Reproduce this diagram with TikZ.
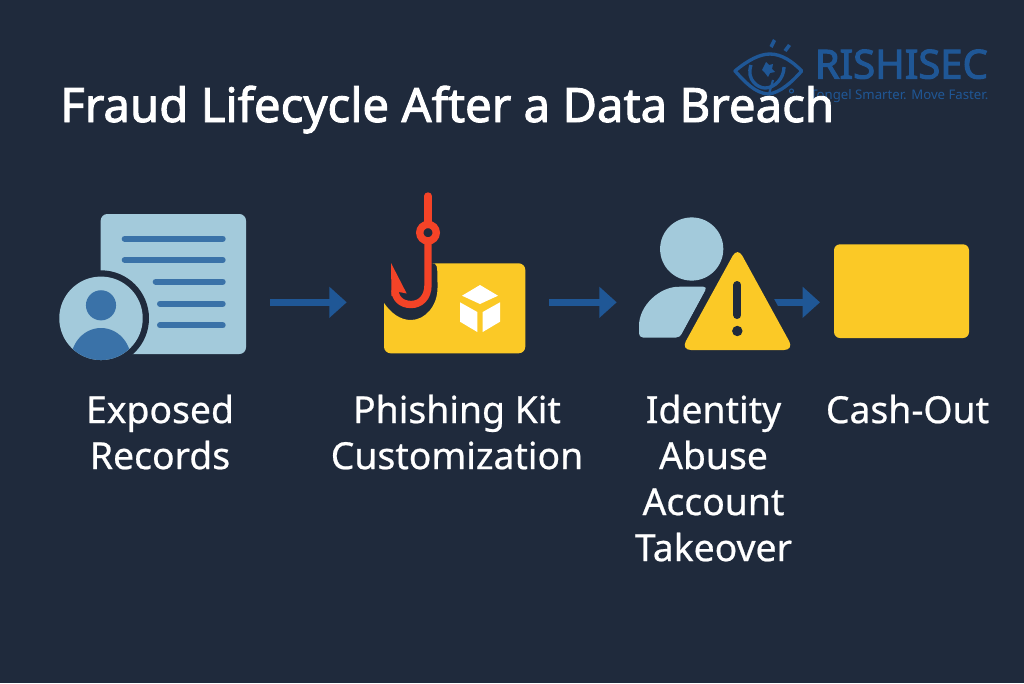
\documentclass[tikz,border=0pt]{standalone}
\usepackage{fontspec}
\usepackage{tikz}
\usetikzlibrary{arrows.meta}
\setmainfont{Noto Sans}
\newfontfamily\labelfont[FakeBold=0.6]{Noto Sans}
\newfontfamily\titlefont[FakeBold=2]{Noto Sans}
\newfontfamily\brandfont[FakeBold=2.6]{Noto Sans}
\definecolor{bgdark}{HTML}{1F2A3C}
\definecolor{paleblue}{HTML}{A3CADB}
\definecolor{midblue}{HTML}{3A72A8}
\definecolor{arrowblue}{HTML}{1F5796}
\definecolor{gold}{HTML}{FBC926}
\definecolor{hookred}{HTML}{F44327}
\tikzset{
  steplabel/.style={text=white,font=\labelfont\fontsize{28}{34.5}\selectfont,align=center,anchor=north},
  flowarrow/.style={arrowblue,line width=5.25pt,-{Triangle[length=13pt,width=22.5pt]}},
  docline/.style={midblue,line width=4.5pt,line cap=round},
  hookline/.style={hookred,line width=5.5pt,line cap=round}
}
\begin{document}
\begin{tikzpicture}[x=0.75pt,y=-0.75pt]
\fill[bgdark] (0,0) rectangle (1024,683);
\useasboundingbox (0,0) rectangle (1024,683);

% logo
\begin{scope}[arrowblue]
\draw[line width=2.5pt,line join=round] (735,71) .. controls (748,60) and (760,54) .. (770,54) .. controls (782,54) and (793,62) .. (801.7,71) .. controls (792,82) and (780,93) .. (768,94) .. controls (755,93) and (745,82) .. (735,71) -- cycle;
\draw[line width=2.5pt] (751,65) .. controls (746,80) and (758,88) .. (765,88) .. controls (775,88) and (784,78) .. (784,67);
\draw[line width=1.6pt] (773,80) -- (769,94);
\fill (762,70) -- (766,62) -- (769,65) -- (773,64) -- (772,69) -- (775,72) -- (770,73) -- (768,77) -- (765,73) -- cycle;
\fill (769.5,46) -- (773,39) -- (776,41) -- (772.5,48) -- cycle;
\fill (783.5,50) -- (788,44) -- (791,46) -- (786.5,52) -- cycle;
\draw[line width=0.8pt] (791.5,91) circle (2);
\end{scope}
\node[anchor=base west,inner sep=0pt,text=arrowblue,font=\brandfont\fontsize{30}{30}\selectfont] (brand) at (814.5,78.5) {RISHISEC};
\node[anchor=base west,inner sep=0pt,text=arrowblue,font=\fontsize{9.9}{12}\selectfont] (tagline) at (810,99) {Tongel Smarter. Move Faster.};

% title
\node[anchor=base west,inner sep=0pt,text=white,font=\titlefont\fontsize{35.5}{40}\selectfont] (title) at (60,122) {Fraud Lifecycle After a Data Breach};

% records
\fill[paleblue,rounded corners=5pt] (100.7,214) rectangle (246,354);
\foreach \ya/\xa in {238.7/122.7,260/122.7,281.7/153.7,303.7/158,325.3/158}
  \draw[docline] (\xa+2,\ya) -- (222.7,\ya);
\fill[bgdark] (101,318.3) circle (36pt);
\fill[paleblue] (101,318.3) circle (31.3pt);
\begin{scope}
\clip (101,318.3) circle (31.3pt);
\fill[midblue] (101,360) ellipse (22.5pt and 24pt);
\end{scope}
\fill[midblue] (101,305.3) circle (11.3pt);

% phishing kit
\fill[gold,rounded corners=5pt] (384,303) -- (384,353.3) -- (525.3,353.3) -- (525.3,263.3) -- (438,263.3)
  [sharp corners] .. controls (437.5,263.3) .. (437.5,288) .. controls (437.5,306) and (425,320) .. (411,320) .. controls (400,320) and (391,313) .. (384,303) -- cycle;
\fill[white] (480,285) -- (498,295.7) -- (480,304) -- (462,295.7) -- cycle;
\fill[white] (460,302.3) -- (477.3,312) -- (477.3,332) -- (460,321.7) -- cycle;
\fill[white] (500,302.3) -- (482.7,312) -- (482.7,332) -- (500,321.7) -- cycle;
\draw[hookline] (428,196) -- (428,222);
\draw[hookline,line cap=butt] (428,240) -- (428,285) .. controls (428,298) and (420,304.5) .. (411,304.5) .. controls (401,304.5) and (395,298) .. (395,290);
\draw[hookred,line width=5.5pt] (428,232.7) circle (6.2pt);
\fill[hookred] (391,263) -- (406.7,293.5) -- (399,292) -- (397,296) -- (391.5,296) -- cycle;

% arrows between the steps
\coordinate (recordsout) at (270,302.3);
\coordinate (kitin) at (346.7,302.3);
\coordinate (kitout) at (549.3,302.3);
\coordinate (abusein) at (616.7,302.3);
\coordinate (abuseout) at (765,302.3);
\coordinate (cashin) at (820,302.3);
\draw[flowarrow] (recordsout) -- (kitin);
\draw[flowarrow] (kitout) -- (abusein);
\draw[flowarrow] (abuseout) -- (cashin);

% identity abuse
\fill[paleblue] (691.7,249) circle (23.7pt);
\fill[paleblue,rounded corners=3pt] (707.3,286.7) -- (682,286.7) .. controls (660,287) and (639,305) .. (639,330) -- (639,337.5) -- (680,337.5) -- cycle;
\draw[bgdark,line width=10.5pt,line join=round] (737.5,247) -- (681,350) -- (794,350) -- cycle;
\fill[gold,rounded corners=7.5pt] (737.5,247) -- (681,350) -- (794,350) -- cycle;
\draw[bgdark,line width=6pt,line cap=round] (737.3,285) -- (737.3,315);
\fill[bgdark] (737.3,331) circle (3.9pt);

% cash-out
\fill[gold,rounded corners=4.5pt] (834,244.3) rectangle (969,338);

% step labels
\node[steplabel] (records) at (160,390) {Exposed\\Records};
\node[steplabel] (kit) at (457,390) {Phishing Kit\\Customization};
\node[steplabel] (abuse) at (713.5,390) {Identity\\Abuse\\Account\\Takeover};
\node[steplabel] (cash) at (907.5,390) {Cash-Out};
\end{tikzpicture}
\end{document}
